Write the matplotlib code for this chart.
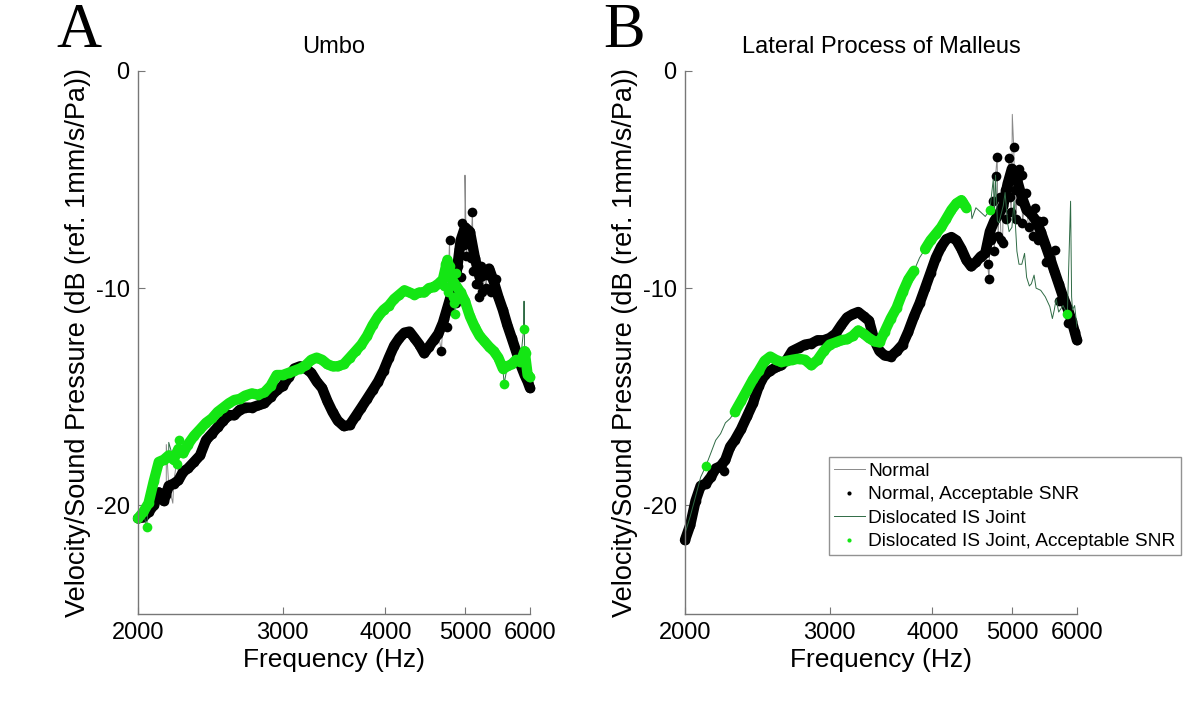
import matplotlib
matplotlib.use("Agg")
import matplotlib.ticker as ticker
from matplotlib import pyplot as plt
from matplotlib.lines import Line2D

plt.rcParams['font.family'] = ['Liberation Sans', 'DejaVu Sans']
plt.rcParams['axes.unicode_minus'] = False

freq = [2000, 2030, 2060, 2090, 2120, 2150, 2180, 2210, 2240, 2270,
        2300, 2340, 2380, 2420, 2460, 2500, 2540, 2580, 2620, 2660,
        2700, 2750, 2800, 2850, 2900, 2950, 3000, 3050, 3100, 3150,
        3200, 3250, 3300, 3350, 3400, 3450, 3500, 3560, 3620, 3680,
        3740, 3800, 3860, 3920, 3980, 4040, 4100, 4160, 4220, 4280,
        4340, 4400, 4460, 4520, 4580, 4640, 4700, 4760, 4820, 4880,
        4940, 5000, 5070, 5140, 5210, 5280, 5350, 5420, 5490, 5560,
        5630, 5700, 5770, 5840, 5910, 5960, 6000]

# ---- A: Umbo ----
umbo_normal = [-20.6, -20.55, -20.3, -20.0, -19.4, -19.8, -19.1, -19.0, -18.85, -18.45,
               -18.3, -18.0, -17.7, -17.0, -16.7, -16.4, -16.1, -15.85, -15.85, -15.6,
               -15.5, -15.5, -15.4, -15.3, -15.0, -14.7, -14.5, -14.1, -13.7, -13.6,
               -13.7, -13.9, -14.3, -14.6, -15.2, -15.7, -16.1, -16.35, -16.3, -15.9,
               -15.5, -15.1, -14.7, -14.3, -13.8, -13.2, -12.65, -12.3, -12.05, -12.0,
               -12.3, -12.6, -13.0, -12.7, -12.4, -12.1, -11.6, -10.9, -10.2, -9.4,
               -7.8, -7.2, -7.4, -8.6, -9.5, -9.4, -9.1, -9.7, -10.4, -11.0,
               -11.7, -12.3, -12.9, -13.5, -14.0, -14.3, -14.6]
umbo_normal_extra = [(2100, -19.7), (2165, -19.5), (4680, -12.9), (4720, -11.4),
                     (4760, -11.8), (4788, -7.8), (4800, -11.0), (4840, -10.2),
                     (4880, -10.7), (4900, -9.0), (4920, -8.2), (4950, -9.5),
                     (4960, -7.0), (4980, -8.0), (5020, -8.5), (5040, -7.8),
                     (5080, -8.6), (5105, -6.5), (5120, -9.2), (5150, -9.8),
                     (5180, -9.8), (5200, -10.4), (5230, -9.0), (5250, -10.2),
                     (5300, -10.0), (5320, -9.4), (5380, -10.2), (5440, -10.0),
                     (5460, -9.6)]
umbo_normal_spikes = [(2095, -18.6), (2115, -20.1), (2165, -17.2), (2205, -19.9),
                      (2235, -17.6), (5000, -4.8)]

umbo_disl = [-20.6, -20.3, -19.9, -18.9, -18.0, -17.9, -17.7, -17.9, -17.4, -17.6,
             -17.2, -16.8, -16.5, -16.2, -16.0, -15.7, -15.5, -15.3, -15.15, -15.1,
             -14.95, -14.85, -14.9, -14.8, -14.5, -14.0, -14.0, -13.9, -13.8, -13.7,
             -13.55, -13.3, -13.2, -13.3, -13.5, -13.6, -13.6, -13.5, -13.2, -12.9,
             -12.6, -12.2, -11.7, -11.3, -11.0, -10.8, -10.5, -10.3, -10.1, -10.2,
             -10.3, -10.2, -10.2, -10.0, -9.95, -9.8, -9.6, -8.7, -9.6, -9.9,
             -10.2, -10.6, -11.3, -11.8, -12.2, -12.45, -12.7, -12.9, -13.2, -13.7,
             -13.6, -13.5, -13.3, -13.4, -12.9, -14.0, -14.1]
umbo_disl_extra = [(2049, -21.0), (2230, -18.1), (2245, -17.0), (4720, -9.9),
                   (4730, -8.9), (4740, -9.2), (4770, -10.2), (4790, -9.9),
                   (4800, -9.0), (4830, -10.4), (4850, -10.7), (4860, -11.2),
                   (4870, -9.3), (4900, -10.5), (5580, -14.4), (5893, -11.9),
                   (5940, -13.0)]
umbo_disl_spikes = [(2180, -17.1), (5900, -10.6)]
umbo_disl_snr = [(2000, 6000)]

# ---- B: Lateral process of malleus ----
lat_normal = [-21.6, -20.9, -19.8, -19.1, -19.0, -18.7, -18.3, -18.2, -17.9, -17.3,
              -17.0, -16.5, -15.9, -15.3, -14.5, -14.0, -13.8, -13.65, -13.55, -13.3,
              -12.9, -12.75, -12.6, -12.55, -12.4, -12.4, -12.3, -12.1, -11.7, -11.35,
              -11.2, -11.1, -11.3, -11.5, -12.4, -12.9, -13.1, -13.15, -12.9, -12.6,
              -12.0, -11.3, -10.7, -10.0, -9.3, -8.6, -8.1, -7.75, -7.65, -7.8,
              -8.2, -8.7, -9.0, -8.8, -8.55, -8.4, -7.4, -6.9, -6.6, -6.2,
              -5.2, -4.5, -5.0, -5.8, -6.4, -6.6, -6.9, -7.4, -8.0, -8.6,
              -9.2, -9.8, -10.4, -10.9, -11.5, -12.0, -12.4]
lat_normal_extra = [(2230, -18.4), (4670, -8.9), (4690, -9.6), (4720, -7.8),
                    (4740, -6.0), (4760, -8.3), (4775, -4.85), (4797, -3.95),
                    (4810, -7.6), (4830, -5.8), (4850, -7.8), (4870, -7.9),
                    (4900, -5.5), (4920, -6.8), (4960, -4.0), (4975, -5.8),
                    (4990, -6.5), (5025, -3.5), (5040, -5.5), (5060, -6.8),
                    (5096, -4.5), (5120, -6.0), (5140, -4.8), (5150, -7.0),
                    (5200, -5.6), (5240, -7.2), (5300, -7.6), (5330, -6.3),
                    (5380, -7.8), (5400, -6.9), (5450, -6.9), (5500, -8.8),
                    (5640, -8.25), (5700, -10.6), (5850, -11.6)]
lat_normal_spikes = [(5005, -2.0)]

lat_disl = [-21.3, -20.5, -19.6, -18.7, -18.2, -17.6, -17.0, -16.7, -16.2, -16.0,
            -15.7, -15.2, -14.7, -14.2, -13.8, -13.35, -13.15, -13.3, -13.4, -13.35,
            -13.3, -13.25, -13.3, -13.55, -13.3, -12.9, -12.6, -12.5, -12.4, -12.35,
            -12.2, -11.95, -12.1, -12.3, -12.45, -12.5, -12.0, -11.4, -10.9, -10.2,
            -9.6, -9.2, -8.6, -8.2, -7.8, -7.5, -7.2, -6.8, -6.4, -6.1,
            -5.95, -6.3, -6.4, -6.3, -6.5, -6.7, -6.4, -6.5, -7.0, -6.2,
            -7.0, -7.2, -8.3, -8.9, -9.5, -9.8, -10.0, -10.1, -10.4, -10.85,
            -11.0, -11.1, -10.8, -11.2, -10.4, -10.8, -11.8]
lat_disl_extra = []
lat_disl_spikes = [(4400, -5.9), (4470, -6.8), (4745, -5.0), (4775, -4.8),
                   (4800, -6.9), (4905, -5.6), (4960, -7.4), (5030, -6.0),
                   (5100, -8.9), (5180, -8.4), (5250, -9.9), (5320, -9.4),
                   (5600, -11.4), (5660, -10.5), (5893, -6.0), (5925, -11.0)]
# frequency bands where the dislocated-joint SNR was acceptable
lat_disl_snr = [(2110, 2130), (2290, 3640), (3670, 3800), (3910, 4420),
                (4680, 4720), (5820, 5850)]

GRAY = '#8a8a8a'
DKGREEN = '#2f6b45'
GREEN = '#14e614'
MS = 7
BAND = 7.5


def merge(f, v, pts):
    allp = sorted(list(zip(f, v)) + list(pts))
    return [p[0] for p in allp], [p[1] for p in allp]


def in_bands(x, bands):
    return any(lo <= x <= hi for lo, hi in bands)


def band_runs(f, v, bands):
    # points inside the SNR bands, broken by NaN between bands
    xs, ys = [], []
    prev = False
    for fi, vi in zip(f, v):
        ok = in_bands(fi, bands)
        if ok:
            xs.append(fi)
            ys.append(vi)
        elif prev:
            xs.append(float('nan'))
            ys.append(float('nan'))
        prev = ok
    return xs, ys


def snr_dots(ax, f, v, extra, bands, color):
    # dense run of acceptable-SNR points: dots plus a band joining them
    bx, by = band_runs(f, v, bands)
    ax.plot(bx, by, color=color, lw=BAND, solid_capstyle='round',
            solid_joinstyle='round', clip_on=False)
    px = [x for x in bx if x == x] + [p[0] for p in extra]
    py = [y for y in by if y == y] + [p[1] for p in extra]
    ax.plot(px, py, ls='none', marker='o', ms=MS, mew=0, color=color,
            clip_on=False)


def panel(ax, normal, normal_extra, normal_spikes,
          disl, disl_extra, disl_spikes, disl_snr, title):
    # normal
    mf, mv = merge(freq, normal, normal_extra)
    lf, lv = merge(mf, mv, normal_spikes)
    ax.plot(lf, lv, color=GRAY, lw=0.7)
    snr_dots(ax, freq, normal, normal_extra, [(2000, 6000)], 'black')
    # dislocated IS joint
    lf, lv = merge(freq, disl, list(disl_extra) + list(disl_spikes))
    ax.plot(lf, lv, color=DKGREEN, lw=0.7)
    snr_dots(ax, freq, disl, disl_extra, disl_snr, GREEN)

    ax.set_xscale('log')
    ax.set_xlim(2000, 6000)
    ax.set_ylim(-25, 0)
    ax.xaxis.set_major_locator(ticker.FixedLocator([2000, 3000, 4000, 5000, 6000]))
    ax.xaxis.set_major_formatter(ticker.FormatStrFormatter('%d'))
    ax.xaxis.set_minor_locator(ticker.NullLocator())
    ax.set_yticks([-20, -10, 0])
    for s in ('top', 'right'):
        ax.spines[s].set_visible(False)
    for s in ('left', 'bottom'):
        ax.spines[s].set_color('#777777')
        ax.spines[s].set_linewidth(1.0)
    ax.tick_params(direction='in', length=5, color='#777777',
                   labelsize=17, pad=6)
    ax.set_title(title, fontsize=17, pad=13)
    ax.set_xlabel('Frequency (Hz)', fontsize=19, labelpad=3)
    ax.set_ylabel('Velocity/Sound Pressure (dB (ref. 1mm/s/Pa))',
                  fontsize=19.5, labelpad=3)


fig = plt.figure(figsize=(12, 7.09), dpi=100)
ax1 = fig.add_axes([0.115, 0.134, 0.3267, 0.766])
ax2 = fig.add_axes([0.5708, 0.134, 0.3267, 0.766])

panel(ax1, umbo_normal, umbo_normal_extra, umbo_normal_spikes,
      umbo_disl, umbo_disl_extra, umbo_disl_spikes, umbo_disl_snr, 'Umbo')
panel(ax2, lat_normal, lat_normal_extra, lat_normal_spikes,
      lat_disl, lat_disl_extra, lat_disl_spikes, lat_disl_snr,
      'Lateral Process of Malleus')

fig.text(0.047, 0.934, 'A', family='Liberation Serif', fontsize=45)
fig.text(0.503, 0.934, 'B', family='Liberation Serif', fontsize=45)

handles = [Line2D([], [], color=GRAY, lw=0.7),
           Line2D([], [], ls='none', marker='o', ms=3, mew=0, color='black'),
           Line2D([], [], color=DKGREEN, lw=0.7),
           Line2D([], [], ls='none', marker='o', ms=3, mew=0, color=GREEN)]
labels = ['Normal', 'Normal, Acceptable SNR', 'Dislocated IS Joint',
          'Dislocated IS Joint, Acceptable SNR']
leg = fig.legend(handles, labels, loc='lower left',
                 bbox_to_anchor=(0.691, 0.217), bbox_transform=fig.transFigure,
                 fontsize=13.8, frameon=True, fancybox=False, borderaxespad=0,
                 handlelength=1.6, handletextpad=0.2, labelspacing=0.32,
                 borderpad=0.25, numpoints=1)
leg.get_frame().set_edgecolor('#777777')
leg.get_frame().set_linewidth(1.0)

plt.savefig('out.png', dpi=100)
